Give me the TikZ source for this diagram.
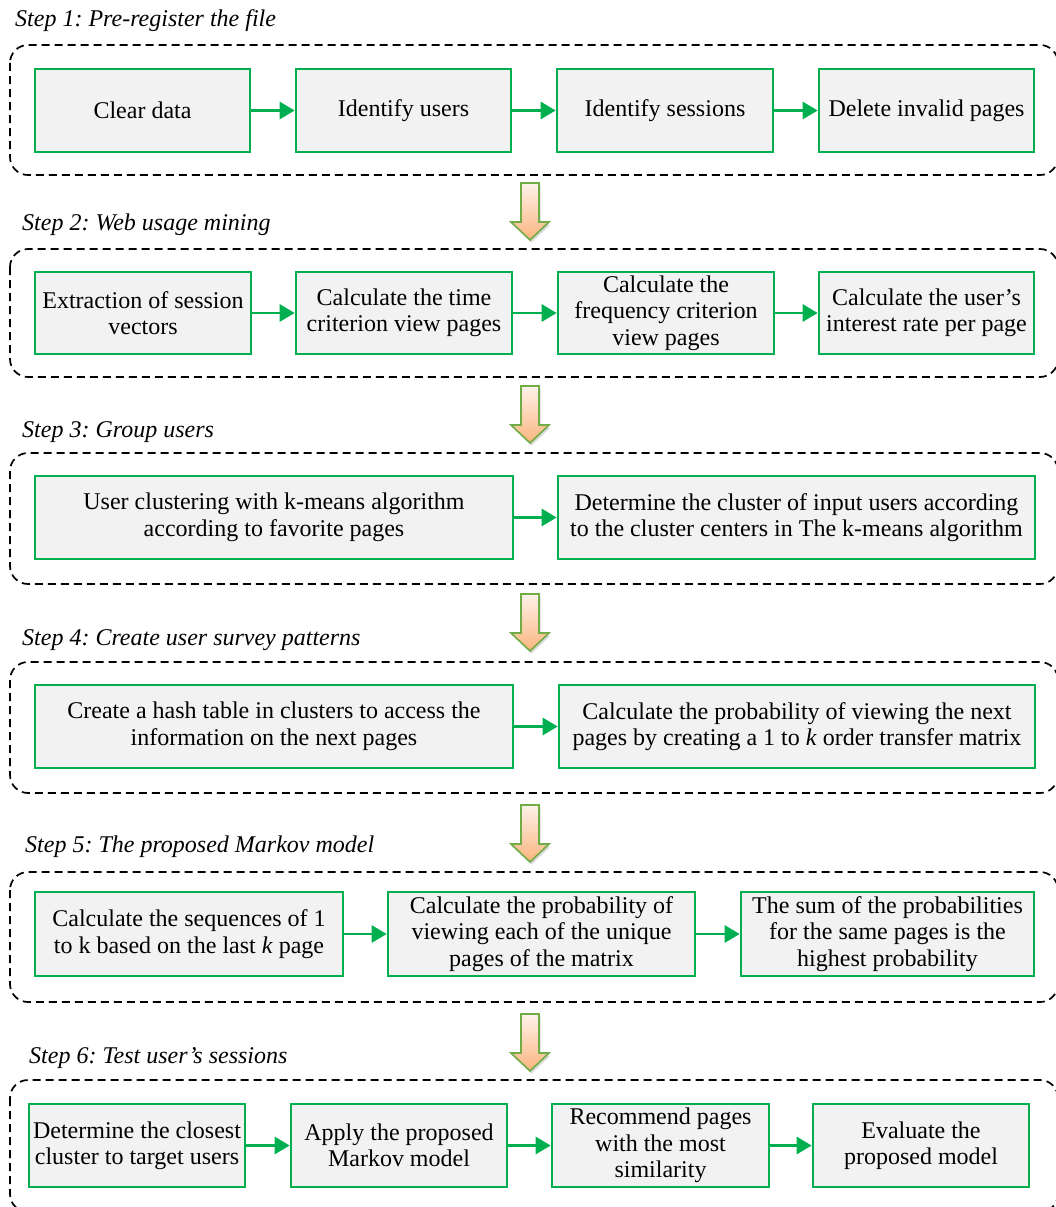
\documentclass[tikz,border=0pt]{standalone}
\usepackage{fontspec}
\setmainfont{LiberationSerif}[Extension=.ttf, UprightFont=*-Regular, ItalicFont=*-Italic, BoldFont=*-Bold, BoldItalicFont=*-BoldItalic]
\frenchspacing
\usetikzlibrary{arrows.meta,shadows}
\definecolor{boxgreen}{HTML}{00B050}
\definecolor{boxfill}{HTML}{F2F2F2}
\definecolor{bagreen}{HTML}{70AD47}
\definecolor{batop}{HTML}{FEF2EA}
\definecolor{babot}{HTML}{FAB47E}
\tikzset{
  box/.style={draw=boxgreen, line width=2.6pt, fill=boxfill, inner sep=0pt,
    minimum height=83pt, align=center, font=\fontsize{24}{26.5}\selectfont},
  link/.style={draw=boxgreen, line width=2.8pt, -{Triangle[length=15pt,width=17pt]}},
  group/.style={draw=black, line width=1.7pt, dash pattern=on 8pt off 5pt, rounded corners=18pt},
  steptitle/.style={anchor=base west, inner sep=0pt, font=\fontsize{24}{26.5}\selectfont\itshape},
  barrow/.style={draw=bagreen, line width=1.6pt, top color=batop, bottom color=babot,
    drop shadow={shadow xshift=1.5pt, shadow yshift=-2.5pt, opacity=0.3}}
}
\newcommand\myblockarrow[2]{%
  \shadedraw[barrow] (#1-9,#2) -- (#1+9,#2) -- (#1+9,#2+39) -- (#1+19,#2+39)
    -- (#1,#2+57) -- (#1-19,#2+39) -- (#1-9,#2+39) -- cycle;}
\begin{document}
\begin{tikzpicture}[x=1pt,y=-1pt]
\useasboundingbox (0,0) rectangle (1055,1207);

% ---------- Step 1 ----------
\node[steptitle] (t1) at (15,27) {Step 1: Pre-register the file};
\draw[group] (10,45) rectangle (1058,175);
\node[box, minimum width=215pt] (b11) at (142.5,110.5) {Clear data};
\node[box, minimum width=215pt] (b12) at (403.5,110.5) {Identify users};
\node[box, minimum width=216pt] (b13) at (665,110.5) {Identify sessions};
\node[box, minimum width=215pt] (b14) at (926.5,110.5) {Delete invalid pages};
\draw[link] (b11) -- (b12);
\draw[link] (b12) -- (b13);
\draw[link] (b13) -- (b14);

\myblockarrow{530}{183}

% ---------- Step 2 ----------
\node[steptitle] (t2) at (22,230) {Step 2: Web usage mining};
\draw[group] (10,249) rectangle (1058,377);
\node[box, minimum width=216pt, minimum height=82pt] (b21) at (143,313) {Extraction of session\\vectors};
\node[box, minimum width=216pt, minimum height=82pt] (b22) at (404,313) {Calculate the time\\criterion view pages};
\node[box, minimum width=216pt, minimum height=82pt] (b23) at (666,313) {Calculate the\\frequency criterion\\view pages};
\node[box, minimum width=215pt, minimum height=82pt] (b24) at (926.5,313) {Calculate the user's\\interest rate per page};
\draw[link] (b21) -- (b22);
\draw[link] (b22) -- (b23);
\draw[link] (b23) -- (b24);

\myblockarrow{530}{386}

% ---------- Step 3 ----------
\node[steptitle] (t3) at (22,437) {Step 3: Group users};
\draw[group] (10,453) rectangle (1058,584);
\node[box, minimum width=478pt] (b31) at (274,517.5) {User clustering with k-means algorithm\\according to favorite pages};
\node[box, minimum width=477pt] (b32) at (796.5,517.5) {Determine the cluster of input users according\\to the cluster centers in The k-means algorithm};
\draw[link] (b31) -- (b32);

\myblockarrow{530}{594}

% ---------- Step 4 ----------
\node[steptitle] (t4) at (22,645) {Step 4: Create user survey patterns};
\draw[group] (10,662) rectangle (1058,793);
\node[box, minimum width=478pt] (b41) at (274,726.5) {Create a hash table in clusters to access the\\information on the next pages};
\node[box, minimum width=476pt] (b42) at (797,726.5) {Calculate the probability of viewing the next\\pages by creating a 1 to \textit{k} order transfer matrix};
\draw[link] (b41) -- (b42);

\myblockarrow{530}{805}

% ---------- Step 5 ----------
\node[steptitle] (t5) at (25,852) {Step 5: The proposed Markov model};
\draw[group] (10,872) rectangle (1058,1002);
\node[box, minimum width=308pt, minimum height=84pt] (b51) at (189,934) {Calculate the sequences of 1\\to k based on the last \textit{k} page};
\node[box, minimum width=307pt, minimum height=84pt] (b52) at (541.5,934) {Calculate the probability of\\viewing each of the unique\\pages of the matrix};
\node[box, minimum width=293pt, minimum height=84pt] (b53) at (887.5,934) {The sum of the probabilities\\for the same pages is the\\highest probability};
\draw[link] (b51) -- (b52);
\draw[link] (b52) -- (b53);

\myblockarrow{530}{1014}

% ---------- Step 6 ----------
\node[steptitle] (t6) at (29,1063) {Step 6: Test user's sessions};
\draw[group] (10,1080) rectangle (1058,1212);
\node[box, minimum width=216pt] (b61) at (137,1145.5) {Determine the closest\\cluster to target users};
\node[box, minimum width=216pt] (b62) at (399,1145.5) {Apply the proposed\\Markov model};
\node[box, minimum width=217pt] (b63) at (660.5,1145.5) {Recommend pages\\with the most\\similarity};
\node[box, minimum width=216pt] (b64) at (921,1145.5) {Evaluate the\\proposed model};
\draw[link] (b61) -- (b62);
\draw[link] (b62) -- (b63);
\draw[link] (b63) -- (b64);
\end{tikzpicture}
\end{document}
